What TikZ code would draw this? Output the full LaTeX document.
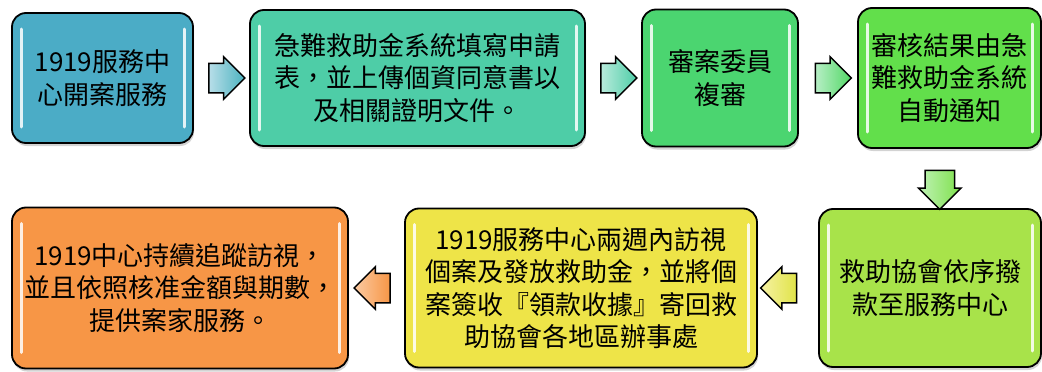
\documentclass[tikz,border=0pt]{standalone}
\usepackage{fontspec}
\newfontfamily\cjk{Noto Sans CJK TC}
\usetikzlibrary{calc,shapes.arrows,shadows}
\definecolor{cA}{HTML}{4BACC6}
\definecolor{cB}{HTML}{4ECDA7}
\definecolor{cC}{HTML}{4BD570}
\definecolor{cD}{HTML}{62DF4B}
\definecolor{cE}{HTML}{A8E34A}
\definecolor{cF}{HTML}{EEE448}
\definecolor{cG}{HTML}{F79646}

\begin{document}
\begin{tikzpicture}[x=1pt, y=-1pt,
    block/.style={draw, line width=1.8pt, rounded corners=14pt, align=center, inner sep=2pt,
      font=\cjk\fontsize{26}{32.5}\selectfont,
      drop shadow={shadow xshift=1pt, shadow yshift=-3pt, opacity=0.35},
      path picture={
        \draw[white, opacity=0.85, line width=3pt, line cap=round]
          ([xshift=9pt,yshift=-16pt]path picture bounding box.north west) -- ([xshift=9pt,yshift=16pt]path picture bounding box.south west);
        \draw[white, opacity=0.85, line width=3pt, line cap=round]
          ([xshift=-9pt,yshift=-16pt]path picture bounding box.north east) -- ([xshift=-9pt,yshift=16pt]path picture bounding box.south east);}},
    barrow/.style={single arrow, draw, line width=1.5pt, single arrow head extend=6.5pt,
      minimum height=36pt, inner sep=0pt},]
        \useasboundingbox (0,0) rectangle (1042,372);
        \node[block, fill=cA, minimum width=181pt, minimum height=130pt] (b1) at (102.5,78) {1919服務中\\心開案服務};
        \node[block, fill=cB, minimum width=335pt, minimum height=136pt, right of=b1, node distance=315pt] (b2) {急難救助金系統填寫申請\\表，並上傳個資同意書以\\及相關證明文件。};
        \node[block, fill=cC, minimum width=156pt, minimum height=137pt, right of=b2, node distance=302.5pt] (b3) {審案委員\\複審};
        \node[block, fill=cD, minimum width=183pt, minimum height=140pt, right of=b3, node distance=229.5pt] (b4) {審核結果由急\\難救助金系統\\自動通知};
        \node[block, fill=cE, minimum width=222pt, minimum height=158pt, below of=b4, node distance=210pt, xshift=-19.5pt] (b5) {救助協會依序撥\\款至服務中心};
        \node[block, fill=cF, minimum width=352pt, minimum height=159pt, left of=b5, node distance=349pt] (b6) {1919服務中心兩週內訪視\\個案及發放救助金，並將個\\案簽收『領款收據』寄回救\\助協會各地區辦事處};
        \node[block, fill=cG, minimum width=336pt, minimum height=161pt, left of=b6, node distance=401pt] (b7) {1919中心持續追蹤訪視，\\並且依照核准金額與期數，\\提供案家服務。};
        \node[barrow, left color=cA!40!white, right color=cA!80!cB, xshift=-2pt] (a1) at ($(b1.east)!0.5!(b2.west)$) {\rule{0pt}{28pt}};
        \node[barrow, left color=cB!40!white, right color=cB, xshift=-2pt] (a2) at ($(b2.east)!0.5!(b3.west)$) {\rule{0pt}{28pt}};
        \node[barrow, left color=cC!40!white, right color=cC!70!cD, xshift=-2pt] (a3) at ($(b3.east)!0.5!(b4.west)$) {\rule{0pt}{28pt}};
        \node[barrow, rotate=-90, left color=cD!40!white, right color=cD!60!cE, xshift=4pt, minimum height=39pt] (a4) at ($(b4.south)!0.5!(b5.north)$) {\rule{0pt}{28pt}};
        \node[barrow, rotate=180, left color=cF!50!white, right color=cF!80!cE, xshift=2pt] (a5) at ($(b5.west)!0.5!(b6.east)$) {\rule{0pt}{28pt}};
        \node[barrow, rotate=180, left color=cG!50!white, right color=cG, xshift=-3pt] (a6) at ($(b6.west)!0.5!(b7.east)$) {\rule{0pt}{28pt}};
\end{tikzpicture}
\end{document}
